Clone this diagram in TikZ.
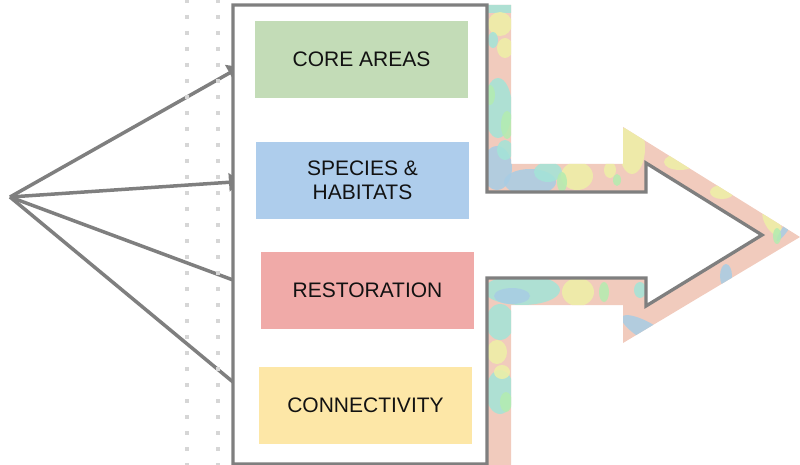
\documentclass[tikz,border=0pt]{standalone}
\usepackage{fontspec}
\setmainfont{Liberation Sans}
\usetikzlibrary{arrows.meta}
\definecolor{linegray}{HTML}{7F7F7F}
\definecolor{dotgray}{HTML}{D6D6D6}
\definecolor{coregreen}{HTML}{C3DCB7}
\definecolor{specblue}{HTML}{AECDEC}
\definecolor{restred}{HTML}{F0AAA8}
\definecolor{connyellow}{HTML}{FDE7A7}
\definecolor{txsalmon}{HTML}{F1CBBD}
\definecolor{txteal}{HTML}{A3E4D7}
\definecolor{txyellow}{HTML}{EEF0A6}
\definecolor{txblue}{HTML}{A8CDE4}
\definecolor{txgreen}{HTML}{B3ECB0}
\begin{document}
\begin{tikzpicture}[x=1pt,y=-1pt,
  catbox/.style={draw=none, inner sep=0pt, minimum width=213pt, minimum height=77pt,
    align=center, font=\fontsize{21}{23.5}\selectfont, text=black!93},
  link/.style={draw=linegray, line width=3.5pt},
  headlink/.style={link, shorten >=-8pt, -{Triangle[length=12pt,width=18pt]}},
  dotline/.style={draw=dotgray, line width=4pt, dash pattern=on 4pt off 12pt},
  outline/.style={draw=linegray, line width=3.3pt, fill=white, line join=miter},
  blob/.style={opacity=0.85}]
\useasboundingbox (0,0) rectangle (800,465);

% connectors
\coordinate (apex) at (10,197);
\coordinate (e1) at (233,71);
\coordinate (e2) at (233,182);
\coordinate (e3) at (233,280);
\coordinate (e4) at (233,382);
\draw[headlink] (apex) -- (e1);
\draw[headlink] (apex) -- (e2);
\draw[link] (apex) -- (e3);
\draw[link] (apex) -- (e4);

% dotted guide lines
\draw[dotline] (187,-1) -- (187,466);
\draw[dotline] (218,-1) -- (218,466);

% textured band around the arrow
\begin{scope}
  \clip (487,5) -- (511,5) -- (511,164) -- (623,164) -- (623,127) -- (800,237)
    -- (623,343) -- (623,305) -- (511,305) -- (511,465) -- (487,465) -- cycle;
  \fill[txsalmon] (480,0) rectangle (800,465);
  \begin{scope}[blob]
  \fill[txteal] (480,0) rectangle (515,13);
  \fill[txyellow] (500,24) ellipse [x radius=12, y radius=12];
  \fill[txyellow] (505,48) ellipse [x radius=8, y radius=10];
  \fill[txteal] (493,40) ellipse [x radius=5, y radius=8];
  \fill[txteal] (498,108) ellipse [x radius=14, y radius=30];
  \fill[txgreen] (507,125) ellipse [x radius=6, y radius=14];
  \fill[txgreen] (490,95) ellipse [x radius=5, y radius=10];
  \fill[txblue] (497,168) ellipse [x radius=15, y radius=22];
  \fill[txteal] (505,150) ellipse [x radius=8, y radius=10];
  \fill[txblue] (530,182) ellipse [x radius=26, y radius=13];
  \fill[txteal] (548,172) ellipse [x radius=14, y radius=10];
  \fill[txyellow] (577,176) ellipse [x radius=16, y radius=14];
  \fill[txgreen] (562,182) ellipse [x radius=5, y radius=10];
  \fill[txyellow] (610,170) ellipse [x radius=6, y radius=8];
  \fill[txyellow] (632,148) ellipse [x radius=13, y radius=26];
  \fill[txgreen] (617,180) ellipse [x radius=4, y radius=6];
  \fill[txyellow] (680,162) ellipse [x radius=16, y radius=8];
  \fill[txyellow] (722,192) ellipse [x radius=12, y radius=7];
  \fill[txyellow, rotate around={30:(772,222)}] (772,222) ellipse [x radius=7, y radius=15];
  \fill[txblue, rotate around={-35:(786,228)}] (786,228) ellipse [x radius=3, y radius=16];
  \fill[txgreen] (777,236) ellipse [x radius=4, y radius=8];
  \fill[txblue] (726,276) ellipse [x radius=6, y radius=12];
  \fill[txblue, rotate around={-30:(648,332)}] (648,332) ellipse [x radius=30, y radius=9];
  \fill[txteal] (522,290) ellipse [x radius=38, y radius=15];
  \fill[txblue] (512,296) ellipse [x radius=18, y radius=8];
  \fill[txyellow] (578,292) ellipse [x radius=16, y radius=14];
  \fill[txgreen] (604,292) ellipse [x radius=5, y radius=10];
  \fill[txteal] (640,290) ellipse [x radius=6, y radius=8];
  \fill[txteal] (500,322) ellipse [x radius=14, y radius=18];
  \fill[txyellow] (497,352) ellipse [x radius=10, y radius=12];
  \fill[txteal] (500,392) ellipse [x radius=14, y radius=22];
  \fill[txgreen] (506,402) ellipse [x radius=6, y radius=10];
  \fill[txyellow] (502,372) ellipse [x radius=8, y radius=7];
  \end{scope}
\end{scope}

% white panel with arrow outline
\path[outline] (487,192) -- (487,5) -- (233,5) -- (233,464) -- (487,464) -- (487,278)
  -- (646,278) -- (646,306) -- (762,235) -- (646,163) -- (646,192) -- cycle;

% category boxes
\node[catbox, fill=coregreen] (core) at (361.5,59.5) {CORE AREAS};
\node[catbox, fill=specblue] (species) at (362.5,180.5) {SPECIES \&\\HABITATS};
\node[catbox, fill=restred] (restoration) at (367.5,290.5) {RESTORATION};
\node[catbox, fill=connyellow] (connectivity) at (365.5,405.5) {CONNECTIVITY};
\end{tikzpicture}
\end{document}
